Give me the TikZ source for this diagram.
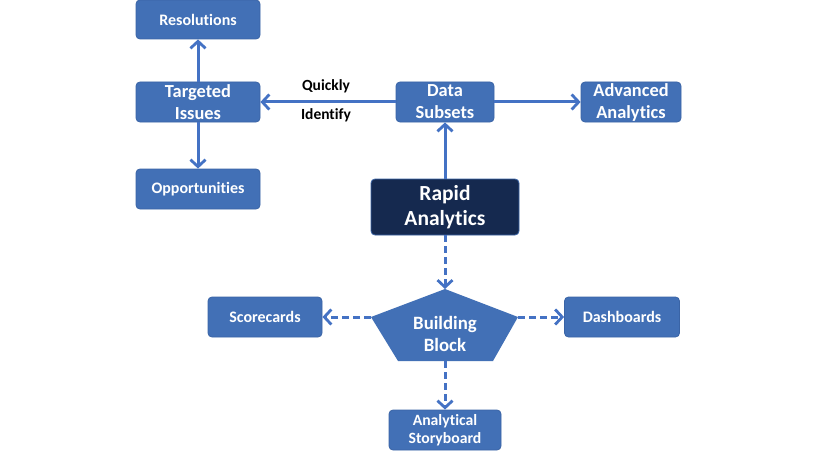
\documentclass[tikz,border=0pt]{standalone}
\usepackage{fontspec}
\setmainfont{Carlito}[Ligatures=NoCommon]
\usetikzlibrary{arrows.meta}
\definecolor{boxblue}{HTML}{4270B6}
\definecolor{boxedge}{HTML}{3A64A6}
\definecolor{navy}{HTML}{15294F}
\definecolor{linkblue}{HTML}{4472C4}
\tikzset{
  box/.style={draw=boxedge, line width=0.8pt, fill=boxblue, rounded corners=4pt, text=white,
    font=\bfseries, align=center, inner sep=0pt, anchor=center},
  link/.style={draw=linkblue, line width=3pt, -{Straight Barb[length=7pt,width=15pt,line width=2.8pt]}},
  dlink/.style={link, dash pattern=on 7pt off 4pt},
  lbl/.style={font=\bfseries, text=black, inner sep=0pt}
}
\begin{document}
\begin{tikzpicture}[x=1pt,y=-1pt]
\useasboundingbox (0,0) rectangle (820,460);
\fill[white] (0,0) rectangle (820,460);
\node[box, minimum width=124pt, minimum height=39pt, font=\bfseries\fontsize{16}{18}\selectfont] (res) at (198,19.5) {Resolutions};
\node[box, minimum width=124pt, minimum height=40pt, font=\bfseries\fontsize{18.4}{22}\selectfont] (tgt) at (198,102) {Targeted\\Issues};
\node[box, minimum width=124pt, minimum height=40pt, font=\bfseries\fontsize{16}{18}\selectfont] (opp) at (198,189) {Opportunities};
\node[box, minimum width=98pt, minimum height=40pt, font=\bfseries\fontsize{18.4}{22}\selectfont] (ds) at (445,102) {Data\\Subsets};
\node[box, minimum width=100pt, minimum height=40pt, font=\bfseries\fontsize{18.4}{22}\selectfont] (adv) at (631,102) {Advanced\\Analytics};
\node[box, fill=navy, draw=boxedge, minimum width=148pt, minimum height=56pt, font=\bfseries\fontsize{21.5}{25}\selectfont] (rap) at (445,207) {Rapid\\Analytics};
\node[box, minimum width=114pt, minimum height=40pt, font=\bfseries\fontsize{16}{18}\selectfont] (sc) at (265,317) {Scorecards};
\node[box, minimum width=115pt, minimum height=40pt, font=\bfseries\fontsize{16}{18}\selectfont] (db) at (622,317) {Dashboards};
\node[box, minimum width=112pt, minimum height=40pt, font=\bfseries\fontsize{15.7}{18.5}\selectfont] (sb) at (445,430) {Analytical\\Storyboard};
% Building block pentagon
\coordinate (bbT) at (445,289);
\coordinate (bbL) at (371,317);
\coordinate (bbR) at (518,317);
\coordinate (bbB) at (445,361);
\fill[boxblue] (bbT) -- (bbR) -- (493,361) -- (398,361) -- (bbL) -- cycle;
\node[lbl, text=white, align=center, font=\bfseries\fontsize{18.8}{22}\selectfont] (bb) at (445,334) {Building\\Block};
% connectors
\draw[link] (tgt) -- (res);
\draw[link] (tgt) -- (opp);
\draw[link] (ds) -- (tgt);
\draw[link] (ds) -- (adv);
\draw[link] (rap) -- (ds);
\draw[dlink] (rap) -- (bbT);
\draw[dlink] (bbL) -- (sc);
\draw[dlink] (bbR) -- (db);
\draw[dlink] (bbB) -- (sb);
\node[lbl, font=\bfseries\fontsize{15.5}{18}\selectfont] (q) at (326,86) {Quickly};
\node[lbl, font=\bfseries\fontsize{15.5}{18}\selectfont] (id) at (326,115) {Identify};
\end{tikzpicture}
\end{document}
